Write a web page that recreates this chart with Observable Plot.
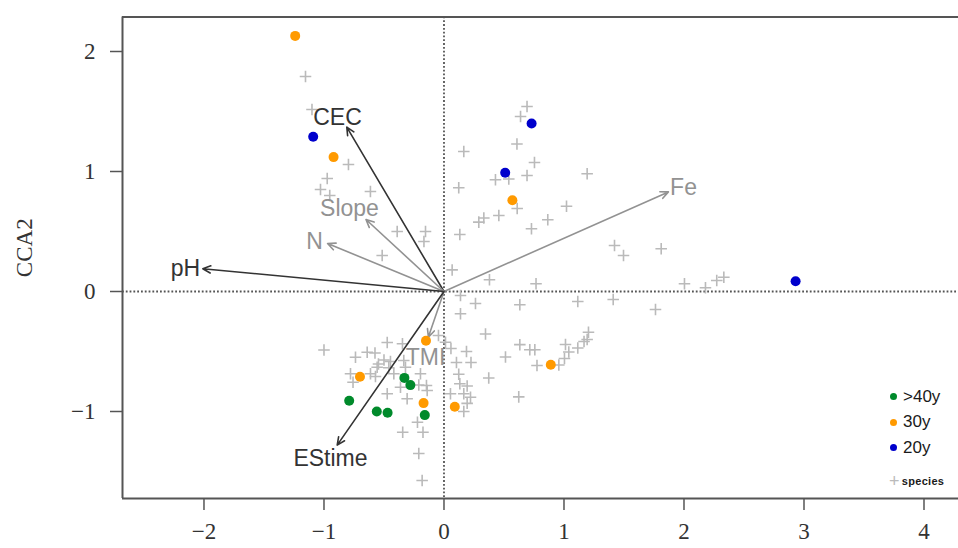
<!DOCTYPE html>
<html><head><meta charset="utf-8">
<script src="https://cdn.jsdelivr.net/npm/d3@7"></script>
<script src="https://cdn.jsdelivr.net/npm/@observablehq/plot@0.6"></script>
<style>
body{margin:0;background:#fff;}
#wrap{position:relative;width:958px;height:548px;overflow:hidden;background:#fff;}
#wrap svg g[aria-label="x-axis tick label"], #wrap svg g[aria-label="y-axis tick label"]{font-family:"Liberation Serif","Times New Roman",serif;font-size:23px;fill:#333;}
.legend{position:absolute;left:888px;top:384px;font-family:"Liberation Sans",Arial,sans-serif;color:#1a1a1a;}
.legend .row{display:flex;align-items:center;height:25.5px;font-size:17px;}
.legend .dot{width:7px;height:7px;border-radius:50%;margin-right:6px;margin-left:2px;}
.legend .sp{margin-top:8px;font-size:11px;font-weight:bold;letter-spacing:0.3px;}
.legend .plus{color:#bbb;font-size:18px;font-weight:normal;margin-right:2px;margin-left:1px;}
</style></head><body><div id="wrap"></div>
<script>
// axis ticks
const xTicks = [-2, -1, 0, 1, 2, 3, 4];
const yTicks = [-1, 0, 1, 2];
const yLabel = "CCA2";

// site groups
const groupNames = [">40y", "30y", "20y"];
const groupColors = ["#008a2b", "#ff9a00", "#0000cc"];
const sitesOver40 = [[-0.79,-0.91],[-0.56,-1.0],[-0.47,-1.01],[-0.33,-0.72],[-0.28,-0.78],[-0.16,-1.03]];
const sites30 = [[-1.24,2.13],[-0.92,1.12],[0.57,0.76],[-0.15,-0.41],[-0.70,-0.71],[-0.17,-0.93],[0.09,-0.96],[0.89,-0.61]];
const sites20 = [[-1.09,1.29],[0.73,1.40],[0.51,0.99],[2.93,0.086]];

// species scores
const species = [
 [-1.154,1.792],[-1.10,1.517],[-0.796,1.058],[-0.973,0.942],[-1.029,0.850],[-0.952,0.800],[-0.613,0.833],
 [-0.39,0.50],[-0.154,0.50],[-0.167,0.417],[-0.515,0.30],[0.068,0.18],
 [0.692,1.542],[0.638,1.458],[0.608,1.229],[0.165,1.167],[0.754,1.075],[0.692,0.967],[0.54,0.9375],
 [0.429,0.931],[0.123,0.864],[1.193,0.981],[0.61,0.692],[1.021,0.711],[0.457,0.633],[0.332,0.6125],
 [0.29,0.578],[0.865,0.598],[0.729,0.5225],[0.132,0.475],[0.379,0.0975],[0.767,0.064],
 [1.421,0.383],[1.496,0.30],[1.81,0.356],[2.004,0.064],[2.179,0.031],[2.273,0.092],[2.332,0.119],
 [0.1375,-0.033],[0.2625,-0.10],[0.632,-0.111],[1.115,-0.083],[1.41,-0.067],[1.7625,-0.15],
 [0.1375,-0.186],[0.346,-0.354],[0.058,-0.475],[0.1875,-0.50],[0.104,-0.592],[0.225,-0.592],
 [0.632,-0.443],[0.5125,-0.546],[0.715,-0.486],[0.757,-0.486],[0.775,-0.617],[1.0125,-0.442],
 [1.04,-0.504],[1.115,-0.471],[1.004,-0.558],[0.957,-0.6125],[1.204,-0.339],[1.193,-0.40],[1.167,-0.417],
 [0.123,-0.69],[0.132,-0.769],[0.193,-0.7875],[0.373,-0.721],[0.221,-0.881],[0.193,-0.932],[0.165,-1.0],
 [0.623,-0.878],[0.165,-0.8525],[0.054,-0.8525],
 [-1.0,-0.4875],[-0.7375,-0.5475],[-0.64,-0.506],[-0.575,-0.5125],[-0.473,-0.425],[-0.346,-0.436],
 [-0.546,-0.604],[-0.50,-0.571],[-0.446,-0.583],[-0.557,-0.631],[-0.779,-0.686],[-0.758,-0.756],
 [-0.6125,-0.686],[-0.571,-0.708],[-0.418,-0.686],[-0.46,-0.636],[-0.335,-0.575],[-0.321,-0.631],
 [-0.473,-0.8525],[-0.307,-0.894],[-0.196,-0.686],[-0.21,-0.779],[-0.146,-0.783],[-0.14,-0.825],
 [-0.3625,-0.7975],[-0.221,-1.089],[-0.344,-1.1725],[-0.175,-1.1725],[-0.21,-1.35],[-0.182,-1.575],
 [-0.046,-0.367],[0.0125,-0.4225]
];

// environmental vectors
const envNames = ["CEC", "Slope", "N", "pH", "Fe", "TMI", "EStime"];
const envX = [-0.81, -0.65, -0.97, -2.01, 1.87, -0.13, -0.89];
const envY = [1.37, 0.60, 0.40, 0.19, 0.83, -0.38, -1.28];
const envLabelX = [-0.8875, -0.7875, -1.079, -2.154, 1.996, -0.154, -0.946];
const envLabelY = [1.45, 0.69, 0.417, 0.19, 0.867, -0.55, -1.39];
const envDark = [true, false, false, true, false, false, true];

const env = envNames.map((name, i) => ({name, x: envX[i], y: envY[i], lx: envLabelX[i], ly: envLabelY[i], color: envDark[i] ? "#333333" : "#929292"}));
const sites = [sitesOver40, sites30, sites20].flatMap((arr, g) => arr.map(([x, y]) => ({x, y, color: groupColors[g]})));
const spec = species.map(([x, y]) => ({x, y}));

const xDom = [-2.679, 4.2875];
const yDom = [-1.725, 2.2875];
const fmt = d => (d < 0 ? "\u2212" : "") + Math.abs(d);

const chart = Plot.plot({
  width: 958, height: 548,
  marginLeft: 122, marginRight: 0, marginTop: 16.5, marginBottom: 50,
  x: {domain: xDom},
  y: {domain: yDom},
  color: {type: "identity"},
  style: {background: "white", overflow: "visible"},
  marks: [
    Plot.ruleX([0], {stroke: "#555", strokeWidth: 1.8, strokeDasharray: "1.8,2"}),
    Plot.ruleY([0], {stroke: "#555", strokeWidth: 1.8, strokeDasharray: "1.8,2"}),
    Plot.dot(spec, {x: "x", y: "y", symbol: "plus", r: 3.8, stroke: "#bababa", strokeWidth: 1.6}),
    Plot.arrow(env, {x1: 0, y1: 0, x2: "x", y2: "y", stroke: "color", strokeWidth: 1.6, headLength: 8, headAngle: 50}),
    Plot.text(env, {x: "lx", y: "ly", text: "name", fill: "color", fontSize: 23, fontFamily: "Liberation Sans, Arial, sans-serif"}),
    Plot.dot(sites, {x: "x", y: "y", fill: "color", r: 5}),
    Plot.ruleX([xDom[0]], {stroke: "#555", strokeWidth: 2}),
    Plot.ruleY(yDom, {stroke: "#555", strokeWidth: 2}),
    Plot.axisX(xTicks, {tickSize: 12, tickPadding: 12, tickFormat: fmt, label: null, stroke: "#555", strokeWidth: 1.5}),
    Plot.axisY(yTicks, {tickSize: 12, tickPadding: 15, tickFormat: fmt, label: null, stroke: "#555", strokeWidth: 1.5}),
    Plot.text([yLabel], {frameAnchor: "left", textAnchor: "middle", dx: -98, dy: -10, rotate: -90, fontSize: 23, fill: "#333", fontFamily: "Liberation Serif, Times New Roman, serif"})
  ]
});
const wrap = document.getElementById("wrap");
wrap.appendChild(chart);

const lg = document.createElement("div");
lg.className = "legend";
lg.innerHTML = groupNames.map((n, i) => `<div class="row"><span class="dot" style="background:${groupColors[i]}"></span>${n.replace(">", "&gt;")}</div>`).join("") +
  `<div class="row sp"><span class="plus">+</span>species</div>`;
wrap.appendChild(lg);
</script>
</body></html>
